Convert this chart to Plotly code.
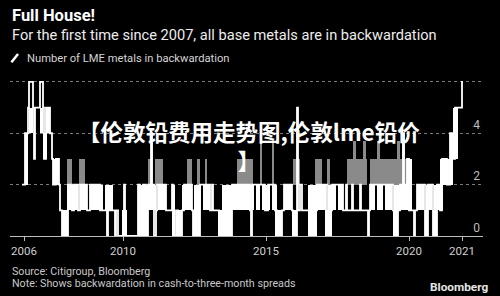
import plotly.graph_objects as go

# ---- data ----
# observation index (0 = first reading, early 2006) and number of LME metals in backwardation
obs = [0, 3, 6, 7, 11, 12, 13, 18, 21, 22, 24, 28, 30, 31, 34, 37, 38, 40, 46, 50,
       52, 56, 58, 65, 68, 78, 85, 86, 93, 94, 96, 102, 103, 116, 118, 121, 124, 126, 129, 130,
       132, 134, 135, 144, 150, 151, 154, 156, 160, 162, 170, 171, 174, 176, 178, 188, 190, 191, 197, 202,
       206, 210, 228, 229, 230, 243, 246, 253, 255, 260, 262, 270, 271, 275, 276, 278, 280, 287, 292, 295,
       305, 308, 310, 321, 324, 325, 330, 331, 338, 339, 346, 347, 348, 371, 372, 376, 378, 381, 382, 385,
       387, 392, 393, 395, 403, 406, 411, 415, 418, 420, 425, 428, 431, 433, 440, 441]
count = [2, 4, 5, 6, 5, 3, 5, 6, 5, 3, 5, 4, 3, 2, 3, 2, 1, 0, 2, 1,
         2, 1, 2, 1, 2, 1, 0, 1, 0, 1, 0, 2, 0, 2, 0, 2, 0, 2, 4, 2,
         0, 1, 2, 1, 2, 0, 1, 0, 1, 2, 1, 0, 1, 0, 2, 1, 2, 1, 0, 1,
         0, 2, 1, 0, 2, 1, 2, 1, 0, 1, 2, 1, 0, 5, 1, 2, 1, 0, 1, 2,
         0, 1, 2, 1, 2, 1, 2, 1, 2, 1, 0, 1, 2, 1, 0, 1, 2, 4, 2, 3,
         1, 0, 1, 2, 0, 2, 0, 2, 1, 3, 2, 4, 3, 5, 6, 6]

# periods of rapid day-to-day flipping (start obs, end obs, low count, high count)
flip_start = [3, 7, 18, 21, 24, 31, 40, 45, 58, 68, 78, 83, 100, 116, 126, 136, 150, 154, 160, 171,
              172, 181, 196, 200, 210, 228, 234, 240, 250, 253, 262, 270, 286, 295, 306, 316, 303, 348, 355, 363,
              372, 371, 378, 385, 395, 404, 412, 403, 411, 418, 421, 428, 431]
flip_end = [6, 11, 21, 25, 28, 37, 46, 56, 65, 78, 81, 91, 105, 126, 134, 144, 153, 160, 170, 178,
            179, 188, 210, 210, 228, 232, 238, 248, 255, 260, 270, 275, 295, 304, 314, 321, 310, 353, 361, 370,
            378, 376, 385, 390, 402, 410, 418, 406, 415, 421, 431, 431, 436]
flip_low = [2, 4, 4, 3, 4, 2, 0, 1, 1, 1, 1, 1, 0, 0, 1, 1, 0, 0, 1, 0,
            1, 1, 0, 1, 1, 1, 1, 1, 1, 0, 1, 0, 0, 1, 1, 1, 0, 1, 1, 1,
            1, 0, 1, 1, 1, 1, 1, 0, 0, 1, 2, 3, 3]
flip_high = [4, 5, 5, 4, 5, 3, 1, 2, 2, 2, 2, 2, 1, 2, 2, 2, 2, 1, 2, 1,
             2, 2, 1, 2, 2, 2, 2, 2, 2, 1, 2, 1, 2, 2, 2, 2, 1, 2, 2, 2,
             2, 1, 2, 3, 2, 2, 2, 1, 1, 3, 3, 4, 5]

# thinner flicker periods (drawn grey)
thin_start = [45, 57, 126, 129, 133, 165, 175, 183, 215, 238, 250, 271, 293, 305, 325, 331, 341, 348, 355, 375, 380]
thin_end = [50, 63, 131, 130.5, 141, 170, 178, 185, 231, 240, 252, 278, 300, 308, 345, 334, 344, 385, 358, 378, 383]
thin_low = [2, 2, 2, 2, 2, 2, 2, 2, 2, 2, 2, 2, 2, 2, 2, 3, 3, 2, 3, 3, 3]
thin_high = [3, 3, 3, 3.7, 3, 3, 3, 3, 3, 3.7, 3.7, 3, 3, 3, 3, 3.7, 3.7, 3, 3.7, 3.7, 4]

year_tick_obs = [2, 101, 244, 387, 440]
year_tick_text = ["2006", "2010", "2015", "2020", "2021"]
count_ticks = [0, 2, 4, 6]

# ---- figure ----
BG = "#000000"
FONT = "Roboto"

fig = go.Figure()

fig.add_trace(go.Bar(
    x=[(s + e) / 2 for s, e in zip(thin_start, thin_end)],
    width=[e - s for s, e in zip(thin_start, thin_end)],
    base=thin_low,
    y=[h - l for h, l in zip(thin_high, thin_low)],
    marker=dict(color="#8a8a8a", line=dict(width=0)),
    hoverinfo="skip", showlegend=False,
))
fig.add_trace(go.Bar(
    x=[(s + e) / 2 for s, e in zip(flip_start, flip_end)],
    width=[e - s for s, e in zip(flip_start, flip_end)],
    base=flip_low,
    y=[h - l for h, l in zip(flip_high, flip_low)],
    marker=dict(color="#ffffff", line=dict(width=0)),
    hoverinfo="skip", showlegend=False,
))
fig.add_trace(go.Scatter(
    x=obs, y=count, mode="lines",
    line=dict(color="#ffffff", width=1.8, shape="hv"),
    name="Number of LME metals in backwardation", showlegend=False,
))

fig.update_layout(
    width=500, height=296,
    margin=dict(l=10, r=17, t=69, b=60),
    paper_bgcolor=BG, plot_bgcolor=BG,
    barmode="overlay", bargap=0,
    font=dict(family=FONT, color="#cccccc"),
    xaxis=dict(
        range=[-12, 461],
        tickmode="array", tickvals=year_tick_obs, ticktext=year_tick_text,
        showgrid=False, zeroline=False,
        showline=True, linecolor="#bdbdbd", linewidth=1,
        ticks="outside", ticklen=4, tickcolor="#bdbdbd",
        tickfont=dict(size=11.5, color="#cfcfcf"),
    ),
    yaxis=dict(
        range=[0, 6.5], side="right",
        tickmode="array", tickvals=count_ticks,
        ticklabelposition="inside top",
        showgrid=True, gridcolor="#7a7a7a", griddash="dot", gridwidth=1,
        zeroline=False, showline=False, ticks="",
        tickfont=dict(size=12, color="#bdbdbd"),
    ),
)

def ann(text, x, y, size, color="#ffffff", xanchor="left", bold=False, family=FONT, **kw):
    fig.add_annotation(
        text=f"<b>{text}</b>" if bold else text,
        xref="paper", yref="paper", x=x, y=y,
        xanchor=xanchor, yanchor="middle", showarrow=False,
        font=dict(size=size, color=color, family=family), **kw)

ann("Full House!", 0, 1.320, 16.5, bold=True)
ann("For the first time since 2007, all base metals are in backwardation", 0, 1.206, 14.6, color="#ededed")
ann("Number of LME metals in backwardation", 0.032, 1.064, 11.2, color="#d4d4d4")
ann("Source: Citigroup, Bloomberg", 0, -0.214, 10.7, color="#c8c8c8")
ann("Note: Shows backwardation in cash-to-three-month spreads", 0, -0.284, 10.7, color="#c8c8c8")
ann("Bloomberg", 1.015, -0.305, 11.8, color="#e6e6e6", xanchor="right", bold=True)

fig.add_shape(type="line", xref="paper", yref="paper",
              x0=0.003, y0=1.040, x1=0.017, y1=1.090,
              line=dict(color="#ffffff", width=2.5))

ann("【伦敦铅费用走势图,伦敦lme铅价<br>】", 0.506, 0.539, 22.5, bold=True, xanchor="center",
    family="Noto Sans CJK SC")

fig.write_html("out.html")
